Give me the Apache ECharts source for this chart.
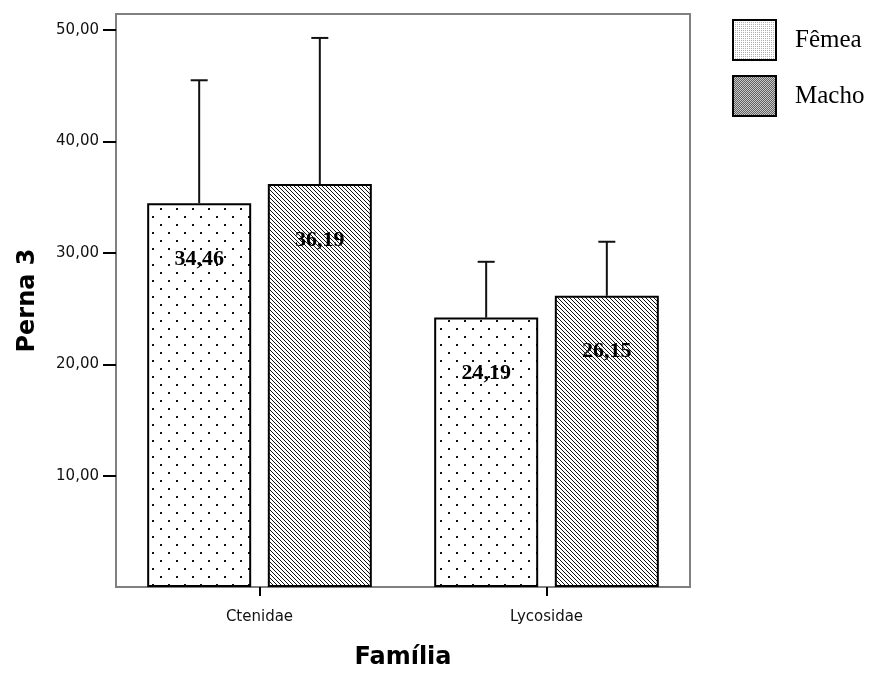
<!DOCTYPE html>
<html>
<head>
<meta charset="utf-8">
<script src="https://cdn.jsdelivr.net/npm/echarts@6/dist/echarts.min.js"></script>
<style>html,body{margin:0;padding:0;background:#fff;}#c{width:876px;height:675px;}</style>
</head>
<body>
<div id="c"></div>
<script>
const categories = ['Ctenidae', 'Lycosidae'];
const seriesNames = ['Fêmea', 'Macho'];
const femeaMeans = [34.46, 24.19];
const machoMeans = [36.19, 26.15];
const femeaUpper = [45.5, 29.2];
const machoUpper = [49.3, 31.0];
const yTicks = [10, 20, 30, 40, 50];

function makePattern(size, draw) {
  const c = document.createElement('canvas');
  c.width = size; c.height = size;
  const ctx = c.getContext('2d');
  ctx.fillStyle = '#fff';
  ctx.fillRect(0, 0, size, size);
  draw(ctx);
  return { image: c, repeat: 'repeat' };
}
const dotPattern = makePattern(16, ctx => {
  ctx.fillStyle = '#111';
  ctx.fillRect(0, 0, 2, 2);
  ctx.fillRect(8, 8, 2, 2);
});
const hatchPattern = makePattern(4, ctx => {
  ctx.fillStyle = '#111';
  for (let i = 0; i < 4; i++) ctx.fillRect(i, i, 1, 1);
});
const legendDot = makePattern(2, ctx => {
  ctx.fillStyle = '#b0b0b0';
  ctx.fillRect(0, 0, 1, 1);
});
const legendHatch = makePattern(2, ctx => {
  ctx.fillStyle = '#606060';
  ctx.fillRect(0, 0, 1, 1);
  ctx.fillRect(1, 1, 1, 1);
  ctx.fillStyle = '#c8c8c8';
  ctx.fillRect(1, 0, 1, 1);
  ctx.fillRect(0, 1, 1, 1);
});

const BAR_W = 104, BAR_GAP = '16%', CAP = 17;
const fmt = v => v.toFixed(2).replace('.', ',');

function errRender(idx) {
  return function (params, api) {
    const layout = api.barLayout({ barWidth: BAR_W, barGap: BAR_GAP, count: 2 });
    const ci = api.value(0);
    const base = api.coord([ci, api.value(1)]);
    const top = api.coord([ci, api.value(2)]);
    const x = base[0] + layout[idx].offsetCenter;
    const st = { stroke: '#111', lineWidth: 2 };
    return {
      type: 'group',
      children: [
        { type: 'line', shape: { x1: x, y1: base[1], x2: x, y2: top[1] }, style: st },
        { type: 'line', shape: { x1: x - CAP / 2, y1: top[1], x2: x + CAP / 2, y2: top[1] }, style: st }
      ]
    };
  };
}

const labelOpt = {
  show: true, position: 'insideTop', distance: 45,
  formatter: p => fmt(p.value),
  fontFamily: 'Liberation Serif', fontWeight: 'bold', fontSize: 22, color: '#000'
};

const chart = echarts.init(document.getElementById('c'));
chart.setOption({
  animation: false,
  backgroundColor: '#fff',
  grid: { left: 116, right: 186, top: 14, bottom: 87, show: true, borderColor: '#808080', borderWidth: 2, backgroundColor: '#fff' },
  legend: {
    orient: 'vertical', left: 727, top: 14, itemWidth: 43, itemHeight: 40, itemGap: 14,
    icon: 'rect', selectedMode: false,
    textStyle: { fontFamily: 'Liberation Serif', fontSize: 25, color: '#000', padding: [0, 0, 0, 14] },
    data: [
      { name: seriesNames[0], itemStyle: { color: legendDot, borderColor: '#000', borderWidth: 2 } },
      { name: seriesNames[1], itemStyle: { color: legendHatch, borderColor: '#000', borderWidth: 2 } }
    ]
  },
  xAxis: {
    type: 'category', data: categories,
    axisLine: { lineStyle: { color: '#808080', width: 2 } },
    axisTick: { show: true, alignWithLabel: true, length: 9, lineStyle: { color: '#000', width: 2 } },
    axisLabel: { margin: 23, fontFamily: 'DejaVu Sans', fontSize: 15, color: '#111' },
    name: 'Família', nameLocation: 'middle', nameGap: 59,
    nameTextStyle: { fontFamily: 'DejaVu Sans', fontWeight: 'bold', fontSize: 24, color: '#000' }
  },
  yAxis: {
    type: 'value', min: 0, max: 51.45, interval: 10,
    splitLine: { show: false },
    axisLine: { show: true, lineStyle: { color: '#808080', width: 2 } },
    axisTick: { show: true, length: 13, customValues: yTicks, lineStyle: { color: '#000', width: 2 } },
    axisLabel: { margin: 17, customValues: yTicks, formatter: v => fmt(v), fontFamily: 'DejaVu Sans', fontSize: 15, color: '#111' },
    name: 'Perna 3', nameLocation: 'middle', nameGap: 76, nameRotate: 90,
    nameTextStyle: { fontFamily: 'DejaVu Sans', fontWeight: 'bold', fontSize: 24, color: '#000' }
  },
  series: [
    {
      name: seriesNames[0], type: 'bar', data: femeaMeans, barWidth: BAR_W, barGap: BAR_GAP,
      itemStyle: { color: dotPattern, borderColor: '#000', borderWidth: 2 },
      label: labelOpt
    },
    {
      name: seriesNames[1], type: 'bar', data: machoMeans, barWidth: BAR_W, barGap: BAR_GAP,
      itemStyle: { color: hatchPattern, borderColor: '#000', borderWidth: 2 },
      label: labelOpt
    },
    {
      name: 'errF', type: 'custom', renderItem: errRender(0), z: 1,
      data: categories.map((c, i) => [i, femeaMeans[i], femeaUpper[i]])
    },
    {
      name: 'errM', type: 'custom', renderItem: errRender(1), z: 1,
      data: categories.map((c, i) => [i, machoMeans[i], machoUpper[i]])
    }
  ]
});
</script>
</body>
</html>
